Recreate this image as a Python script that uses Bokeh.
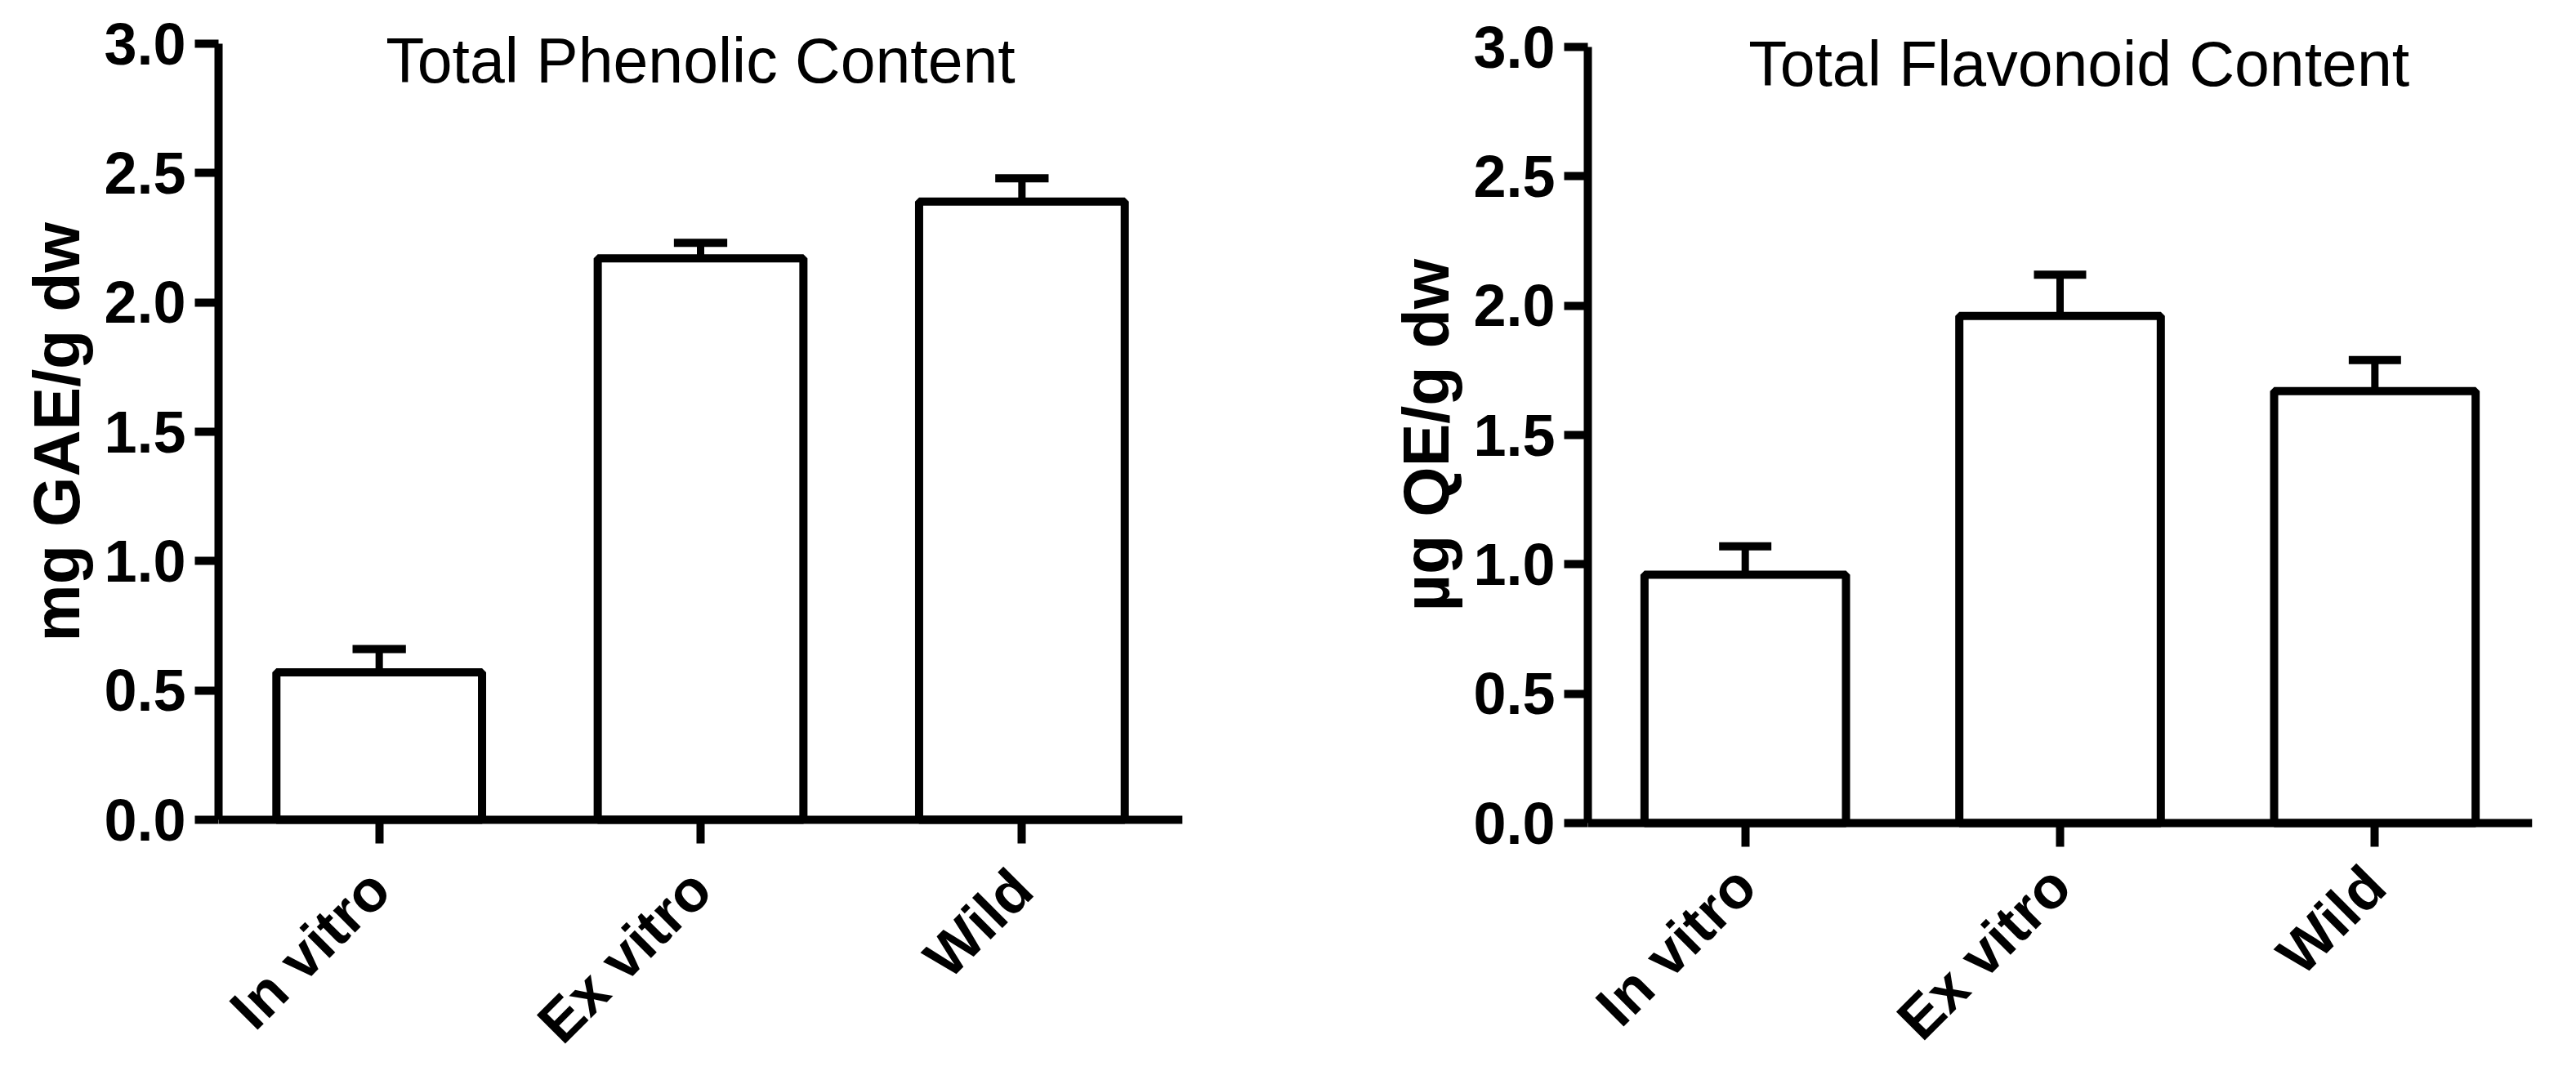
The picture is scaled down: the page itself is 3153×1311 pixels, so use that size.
import math
from bokeh.plotting import figure
from bokeh.models import (Range1d, FactorRange, FixedTicker, PrintfTickFormatter,
                          Label, Title)
from bokeh.layouts import row
from bokeh.embed import file_html
from bokeh.resources import INLINE

# ---- data ----
categories = ["In vitro", "Ex vitro", "Wild"]
phenolic_mean = [0.57, 2.17, 2.39]
phenolic_err = [0.09, 0.06, 0.09]
flavonoid_mean = [0.96, 1.96, 1.67]
flavonoid_err = [0.11, 0.16, 0.12]
y_ticks = [0.0, 0.5, 1.0, 1.5, 2.0, 2.5, 3.0]
titles = ["Total Phenolic Content", "Total Flavonoid Content"]
y_labels = ["mg GAE/g dw", "\u00b5g QE/g dw"]

FONT = "Liberation Sans"
Y_MIN, Y_MAX = 0.0, 3.0      # axis extent
PX_PER_UNIT = 316.67         # vertical scale of the reference
FIG_H = 1295


def make_panel(means, errs, title, ylabel, title_x, ylabel_offset, xlab_standoff,
               width, bl, br, top_px):
    # frame spans the whole figure height; the axes are bounded to 0..3
    y_top = Y_MAX + top_px / PX_PER_UNIT
    y_bot = Y_MAX - (FIG_H - top_px) / PX_PER_UNIT
    p = figure(x_range=FactorRange(*categories), y_range=Range1d(y_bot, y_top),
               width=width, height=FIG_H, output_backend="svg",
               toolbar_location=None,
               min_border_left=bl, min_border_right=br,
               min_border_top=0, min_border_bottom=0)
    p.background_fill_color = "white"
    p.border_fill_color = "white"
    p.outline_line_color = None
    p.xgrid.visible = False
    p.ygrid.visible = False

    uppers = [m + e for m, e in zip(means, errs)]
    p.segment(x0=categories, y0=means, x1=categories, y1=uppers,
              line_color="black", line_width=9)
    p.rect(x=categories, y=uppers, width=0.166, height=10,
           height_units="screen", fill_color="black", line_color=None)
    p.vbar(x=categories, top=means, bottom=0, width=0.64,
           fill_color="white", line_color="black", line_width=10)

    for ax in (p.xaxis[0], p.yaxis[0]):
        ax.axis_line_width = 10
        ax.axis_line_color = "black"
        ax.major_tick_line_width = 10
        ax.major_tick_line_color = "black"
        ax.major_tick_in = 0
        ax.major_tick_out = 29
        ax.minor_tick_line_color = None
        ax.major_label_text_font = FONT
        ax.major_label_text_font_style = "bold"
        ax.major_label_text_font_size = "72px"
        ax.major_label_text_color = "black"

    ya = p.yaxis[0]
    ya.bounds = (Y_MIN, Y_MAX)
    ya.ticker = FixedTicker(ticks=y_ticks)
    ya.formatter = PrintfTickFormatter(format="%.1f")
    ya.major_label_standoff = 11

    # y-axis title, placed along the 0..3 part of the axis
    p.add_layout(Title(text=ylabel, align="left", offset=ylabel_offset,
                       standoff=21, text_font=FONT, text_font_style="bold",
                       text_font_size="79px", text_color="black"), "left")

    xa = p.xaxis[0]
    xa.fixed_location = Y_MIN
    xa.major_label_orientation = math.pi / 4
    xa.major_label_standoff = xlab_standoff

    p.add_layout(Label(x=title_x, y=2.934, text=title, text_align="center",
                       text_baseline="alphabetic", text_font=FONT,
                       text_font_size="77px", text_color="black"))
    return p


p1 = make_panel(phenolic_mean, phenolic_err, titles[0], y_labels[0], 1.5, 510, 44,
                1600, 267, 153, 53)
p2 = make_panel(flavonoid_mean, flavonoid_err, titles[1], y_labels[1], 1.56, 547, 36,
                1540, 343, 41, 57)

layout = row(p1, p2)
open("out.html", "w").write(file_html(layout, INLINE))
